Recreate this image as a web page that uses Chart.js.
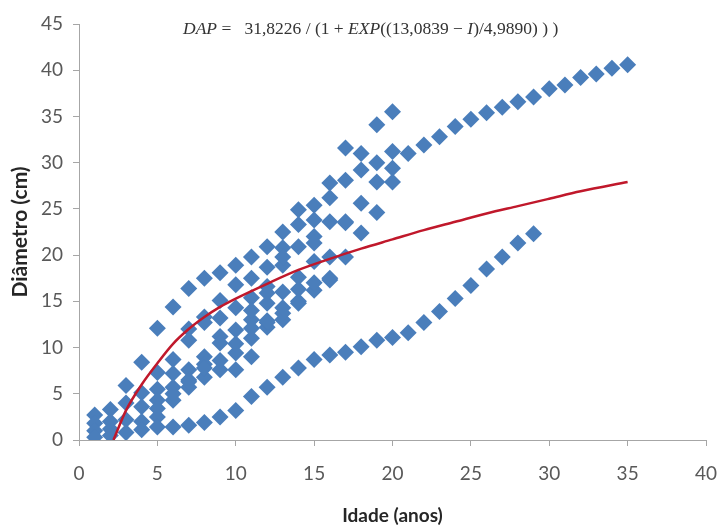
<!DOCTYPE html>
<html>
<head>
<meta charset="utf-8">
<script src="https://cdn.jsdelivr.net/npm/chart.js@4"></script>
<style>
  body { margin: 0; background: #fff; }
  #wrap { position: relative; width: 718px; height: 528px; }
  #formula {
    position: absolute; left: 183px; top: 18px;
    font-family: 'Liberation Serif', serif; font-size: 17.5px; color: #333;
    white-space: pre;
  }
</style>
</head>
<body>
<div id="wrap">
  <canvas id="chart" width="718" height="528"></canvas>
  <div id="formula"><i>DAP</i> =   31,8226 / (1 + <i>EXP</i>((13,0839 − <i>I</i>)/4,9890) ) )</div>
</div>
<script>
// diameter (cm) of each tree, index 0 = age 1, null = not measured
const tree1 = [2.7, 3.3, 5.9, 8.4, 12.1, 14.4, 16.4, 17.5, 18.1, 18.9, 19.8, 20.9, 22.5, 24.9, 25.4, 27.8, 31.6, 31.0, 34.1, 35.5];
const tree2 = [1.8, 1.2, 4.0, 5.1, 7.3, 8.7, 12.0, 13.3, 15.1, 16.8, 17.5, 18.7, 20.8, 23.3, 23.8, 26.2, 28.1, 29.2, 30.0, 31.2,
               31.0, 31.9, 32.8, 33.9, 34.7, 35.4, 36.0, 36.6, 37.1, 38.0, 38.4, 39.2, 39.6, 40.2, 40.6];
const tree3 = [1.0, 2.0, 2.2, 3.6, 5.5, 7.2, 10.8, 12.7, 13.2, 14.3, 15.4, 16.6, 18.9, 20.9, 22.0, 23.6, 23.6, 25.6, 27.9, 29.4];
const tree4 = [null, null, null, 2.0, 4.3, 5.7, 7.6, 9.0, 11.2, 11.9, 13.0, 14.8, 16.0, 17.6, 19.3, 19.8, 19.8, 22.4, 24.6, 27.9];
const tree5 = [null, null, null, null, 2.5, 4.3, 5.7, 6.8, 7.6, 7.6, 9.0, 12.2, 13.0, 14.8, 16.2, 17.3];
const tree6 = [null, null, null, null, null, null, 6.5, 8.2, 10.5, 9.4, 12.1, 12.7, 13.7, 15.0, 17.0, 17.5];
const tree7 = [null, null, null, null, null, null, null, null, null, null, 14.0, 15.9, 19.8, null, 21.3, null, 23.5];
const tree8 = [0.3, 0.5, 0.8, 1.1, 1.4, 1.4, 1.6, 1.9, 2.5, 3.2, 4.7, 5.7, 6.8, 7.8, 8.7, 9.2, 9.5, 10.1, 10.8, 11.1,
               11.6, 12.7, 13.9, 15.3, 16.7, 18.5, 19.8, 21.3, 22.3];
const tree9 = [null, null, null, null, 3.4, 5.0, 6.3, 7.8, 8.6, 10.4, 11.0, 12.9, 14.3, 16.3];

// fitted curve
const curveAge = [2.2, 3, 4, 5, 6, 7, 8, 9, 10, 12, 14, 16, 18, 20, 22, 24, 26, 28, 30, 32, 35];
const curveDap = [0, 3.2, 6.0, 8.3, 10.4, 12.0, 13.3, 14.4, 15.3, 16.9, 18.4, 19.6, 20.7, 21.7, 22.7, 23.6, 24.5, 25.3, 26.1, 26.9, 27.9];

const trees = [tree1, tree2, tree3, tree4, tree5, tree6, tree7, tree8, tree9];

const points = [];
trees.forEach(t => {
    t.forEach((d, i) => {
        if (d !== null) points.push({ x: i + 1, y: d });
    });
});
const curve = curveAge.map((a, i) => ({ x: a, y: curveDap[i] }));

const tickFont = { family: 'Lato', size: 19 };
const axisColor = '#a6a6a6';

new Chart(document.getElementById('chart').getContext('2d'), {
    type: 'scatter',
    data: {
        datasets: [
            {
                label: 'Ajustado',
                data: curve,
                showLine: true,
                borderColor: '#c0182b',
                borderWidth: 2.5,
                pointRadius: 0,
                cubicInterpolationMode: 'monotone',
                order: 0
            },
            {
                label: 'Observado',
                data: points,
                pointStyle: 'rectRot',
                pointRadius: 8.5,
                backgroundColor: '#4a7ebb',
                borderWidth: 0,
                order: 1
            }
        ]
    },
    options: {
        responsive: false,
        animation: false,
        layout: { padding: { top: 24, right: 3, left: 0, bottom: 0 } },
        plugins: {
            legend: { display: false },
            tooltip: { enabled: false }
        },
        scales: {
            x: {
                type: 'linear',
                min: 0, max: 40,
                afterFit: s => { s.height = 88; s.paddingRight = 12; s.paddingLeft = 0; },
                ticks: { stepSize: 5, color: '#595959', font: tickFont, padding: 16 },
                grid: { drawOnChartArea: false, drawTicks: true, tickLength: 6, color: axisColor },
                border: { color: axisColor },
                title: {
                    display: true, text: 'Idade (anos)', color: '#262626',
                    font: { family: 'Lato', size: 19, weight: 'bold' },
                    padding: { top: 4, bottom: 1 }
                }
            },
            y: {
                min: 0, max: 45,
                afterFit: s => { s.width = 79; },
                ticks: { stepSize: 5, color: '#595959', font: tickFont, padding: 10 },
                grid: { drawOnChartArea: false, drawTicks: true, tickLength: 6, color: axisColor },
                border: { color: axisColor },
                title: {
                    display: true, text: 'Diâmetro (cm)', color: '#262626',
                    font: { family: 'Lato', size: 21, weight: 'bold' },
                    padding: { top: 8, bottom: 0 }
                }
            }
        }
    }
});
</script>
</body>
</html>
